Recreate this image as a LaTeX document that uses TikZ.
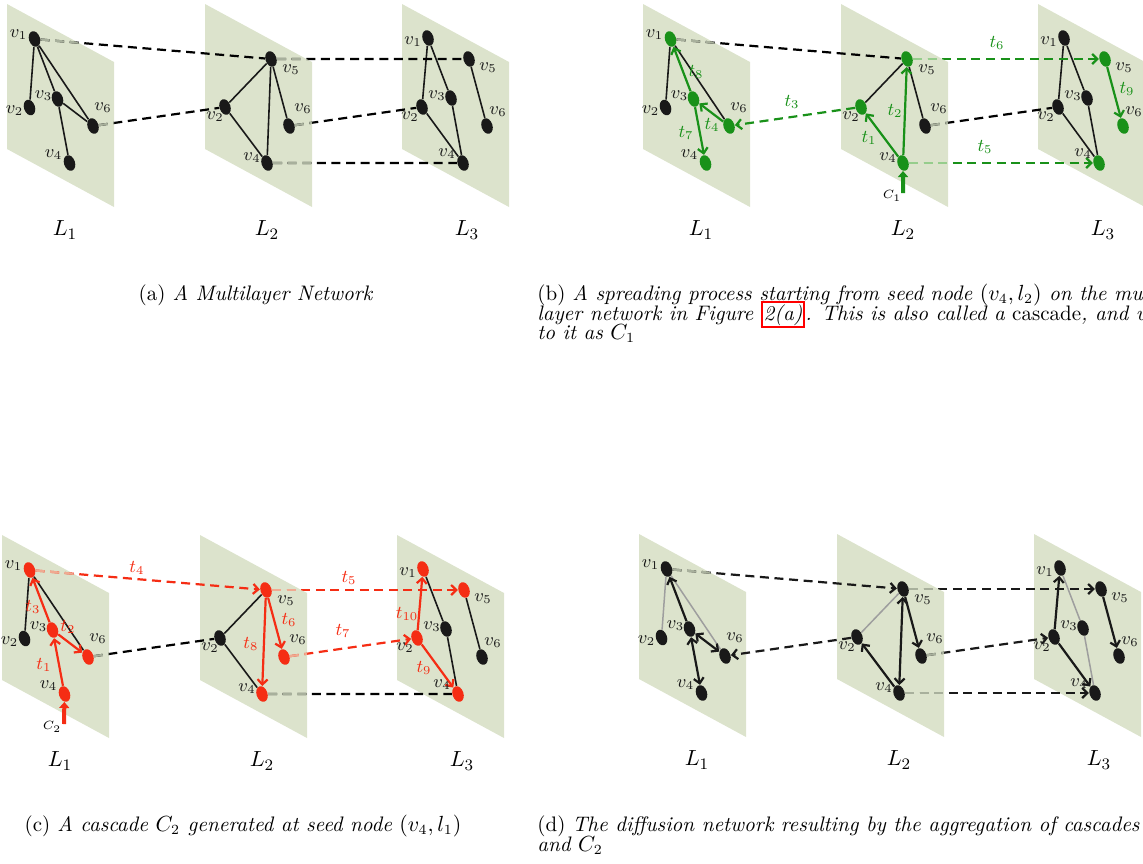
\documentclass[tikz,border=0pt]{standalone}
\usepackage{tikz}
\usetikzlibrary{arrows.meta,calc,positioning,shapes.geometric}
\pgfdeclarelayer{bg}
\pgfdeclarelayer{mid}
\pgfsetlayers{bg,mid,main}

\definecolor{planecol}{RGB}{220,227,204}
\definecolor{ink}{RGB}{25,25,25}
\definecolor{grn}{RGB}{25,145,25}
\definecolor{rd}{RGB}{245,45,20}
\definecolor{kfade}{RGB}{168,176,156}
\definecolor{gfade}{RGB}{150,205,140}
\definecolor{rfade}{RGB}{240,170,145}

\setlength{\fboxsep}{0.5pt}
\setlength{\fboxrule}{1pt}

\newcommand\tfont{\fontsize{9}{10}\selectfont}

% the three layer planes of one panel
\newcommand\planes{%
  \foreach \x in {7,205,402}
    \fill[plane] (\x,4) -- ++(107,58) -- ++(0,145) -- ++(-107,-58) -- cycle;}

% light part of an inter-layer link, where it runs behind its own plane
\newcommand\fade[4]{%
  \begin{scope}
    \clip (#1,4) -- ++(107,58) -- ++(0,145) -- ++(-107,-58) -- cycle;
    \draw[inter, #2] (#3) -- (#4);
  \end{scope}}

% nodes v1..v6 of the three layers; \hot<panel><layer><node> gives the fill
\newcommand\netnodes[1]{%
  \foreach \n/\xy/\dxy/\i in {11/{34.5,39}/{-16,-4}/1, 12/{29.5,107.5}/{-15,3}/2,
      13/{57.5,99}/{-14,-3}/3, 14/{69.5,163}/{-16,-8}/4, 16/{93,126}/{10,-18}/6,
      22/{225,107}/{-10,10}/2, 24/{267,163}/{-15,-5}/4, 25/{271,59}/{20,11}/5,
      26/{289,126}/{14,-17}/6,
      31/{428,38}/{-15,4}/1, 32/{422,107}/{-12,10}/2, 33/{451,98}/{-14,-2}/3,
      34/{463,163}/{-16,-9}/4, 35/{469,59}/{19,9}/5, 36/{487,126}/{11,-14}/6}{%
    \ifcsname hot#1\n\endcsname \edef\vcol{\csname hot#1\n\endcsname}\else\def\vcol{ink}\fi
    \node[vx, fill=\vcol] (#1\n) at (\xy) {};
    \node[vlbl] (#1\n-lab) at ($(\xy)+(\dxy)$) {$v_{\i}$};}}

\newcommand\laylabels[1]{%
  \foreach \i/\x in {1/65,2/267,3/467}
    \node[lay] (#1L\i) at (\x,230) {$L_{\i}$};}

\foreach \n in {11,13,14,16,22,24,25,34,35,36}
  {\expandafter\xdef\csname hotb\n\endcsname{grn}}
\foreach \n in {11,13,14,16,24,25,26,31,32,34,35}
  {\expandafter\xdef\csname hotc\n\endcsname{rd}}

\begin{document}
\begin{tikzpicture}[x=0.5pt, y=-0.5pt,
    > = {Straight Barb[length=2.6pt,width=5pt]},
     plane/.style = {fill=planecol},
        vx/.style = {ellipse, inner sep=0pt, minimum width=5.5pt, minimum height=8pt, rotate=18},
      vlbl/.style = {font=\tfont, text=ink, inner sep=0pt},
        tl/.style = {font=\tfont, inner sep=0pt},
       lay/.style = {font=\fontsize{11}{13}\selectfont, inner sep=0pt},
      clbl/.style = {font=\fontsize{6}{7}\selectfont, inner sep=0pt},
        ln/.style = {draw=ink, line width=0.8pt},
       gln/.style = {draw=black!38, line width=0.75pt},
       hot/.style = {->, line width=1.1pt},
     inter/.style = {line width=1.1pt, dash pattern=on 4.5pt off 2.8pt},
      seed/.style = {-{Triangle[length=3pt,width=5pt]}, line width=2pt},
    captxt/.style = {font=\fontsize{10.5}{12}\selectfont, inner sep=0pt, anchor=base west}
]
\useasboundingbox (0,0) rectangle (1143,863);

%% (a) the multilayer network
\begin{scope}
\begin{pgfonlayer}{bg}\planes\end{pgfonlayer}
\netnodes{a}
\laylabels{a}
\begin{pgfonlayer}{mid}
\draw[ln] (a11) -- (a12) (a11) -- (a13) (a11) -- (a16) (a13) -- (a16) (a13) -- (a14)
          (a25) -- (a22) (a25) -- (a24) (a25) -- (a26) (a22) -- (a24)
          (a31) -- (a32) (a31) -- (a33) (a33) -- (a34) (a32) -- (a34) (a35) -- (a36);
\draw[inter] (a11) -- (a25) (a16) -- (a22) (a25) -- (a35) (a26) -- (a32) (a24) -- (a34);
\fade{7}{kfade}{a11}{a25}   \fade{7}{kfade}{a16}{a22}
\fade{205}{kfade}{a25}{a35} \fade{205}{kfade}{a26}{a32} \fade{205}{kfade}{a24}{a34}
\end{pgfonlayer}
\end{scope}

%% (b) cascade C1
\begin{scope}[shift={(636,0)}]
\begin{pgfonlayer}{bg}\planes\end{pgfonlayer}
\netnodes{b}
\laylabels{b}
\coordinate (bs) at (267,193);
\node[clbl] (bcl) at (256,196) {$C_1$};
\foreach \t/\xy in {8/{60,72}, 4/{76,125}, 7/{50,133}, 1/{233,138}, 2/{259,111},
                    9/{491,89}, 3/{156,102}, 6/{361,43}, 5/{349,147}}
  \node[tl, grn] (bt\t) at (\xy) {$t_{\t}$};
\begin{pgfonlayer}{mid}
\draw[ln] (b11) -- (b12) (b11) -- (b16) (b25) -- (b22) (b25) -- (b26)
          (b31) -- (b32) (b31) -- (b33) (b33) -- (b34) (b32) -- (b34);
\path (b13) edge[hot, grn] (b11)
      (b16) edge[hot, grn] (b13)
      (b13) edge[hot, grn] (b14)
      (b24) edge[hot, grn] (b22)
      (b24) edge[hot, grn] (b25)
      (b35) edge[hot, grn] (b36);
\draw[inter] (b11) -- (b25) (b26) -- (b32);
\fade{7}{kfade}{b11}{b25} \fade{205}{kfade}{b26}{b32}
\path (b22) edge[inter, ->, grn] (b16)
      (b25) edge[inter, ->, grn] (b35)
      (b24) edge[inter, ->, grn] (b34);
\fade{205}{gfade}{b25}{b35} \fade{205}{gfade}{b24}{b34}
\draw[seed, grn] (bs) -- (b24);
\end{pgfonlayer}
\end{scope}

%% (c) cascade C2
\begin{scope}[shift={(-5,531)}]
\begin{pgfonlayer}{bg}\planes\end{pgfonlayer}
\netnodes{c}
\laylabels{c}
\coordinate (cs) at (69,193);
\node[clbl] (ccl) at (57,196) {$C_2$};
\foreach \t/\xy in {4/{142,37}, 3/{38,76}, 2/{73,96}, 1/{49,134}, 5/{354,47},
                    6/{294,89}, 8/{256,113}, 7/{348,100}, 10/{412,83}, 9/{429,137}}
  \node[tl, rd] (ct\t) at (\xy) {$t_{\t}$};
\begin{pgfonlayer}{mid}
\draw[ln] (c11) -- (c12) (c11) -- (c16) (c25) -- (c22) (c22) -- (c24)
          (c31) -- (c33) (c33) -- (c34) (c35) -- (c36);
\path (c14) edge[hot, rd] (c13)
      (c13) edge[hot, rd] (c16)
      (c13) edge[hot, rd] (c11)
      (c25) edge[hot, rd] (c26)
      (c25) edge[hot, rd] (c24)
      (c32) edge[hot, rd] (c31)
      (c32) edge[hot, rd] (c34);
\draw[inter] (c16) -- (c22) (c24) -- (c34);
\fade{7}{kfade}{c16}{c22} \fade{205}{kfade}{c24}{c34}
\path (c11) edge[inter, ->, rd] (c25)
      (c25) edge[inter, ->, rd] (c35)
      (c26) edge[inter, ->, rd] (c32);
\fade{7}{rfade}{c11}{c25} \fade{205}{rfade}{c25}{c35} \fade{205}{rfade}{c26}{c32}
\draw[seed, rd] (cs) -- (c14);
\end{pgfonlayer}
\end{scope}

%% (d) diffusion network
\begin{scope}[shift={(632,530)}]
\begin{pgfonlayer}{bg}\planes\end{pgfonlayer}
\netnodes{d}
\laylabels{d}
\begin{pgfonlayer}{mid}
\draw[gln] (d11) -- (d12) (d11) -- (d16) (d25) -- (d22) (d31) -- (d33) (d33) -- (d34);
\path (d13) edge[hot, ink] (d11)
      (d13) edge[hot, ink, <->] (d16)
      (d13) edge[hot, ink, <->] (d14)
      (d24) edge[hot, ink] (d22)
      (d24) edge[hot, ink, <->] (d25)
      (d25) edge[hot, ink] (d26)
      (d32) edge[hot, ink] (d31)
      (d32) edge[hot, ink] (d34)
      (d35) edge[hot, ink] (d36);
\path (d11) edge[inter, ->, ink] (d25)
      (d22) edge[inter, ->, ink] (d16)
      (d25) edge[inter, ->, ink] (d35)
      (d26) edge[inter, ->, ink] (d32)
      (d24) edge[inter, ->, ink] (d34);
\fade{7}{kfade}{d11}{d25} \fade{205}{kfade}{d25}{d35}
\fade{205}{kfade}{d26}{d32} \fade{205}{kfade}{d24}{d34}
\end{pgfonlayer}
\end{scope}

%% captions, one node per printed line
\node[captxt, anchor=base] (capa) at (256,300) {(a) \textit{A Multilayer Network}};
\node[captxt] (capb1) at (537,300)
  {(b) \textit{A spreading process starting from seed node $(v_4,l_2)$ on the multi-}};
\node[captxt] (capb2) at (537,320)
  {\textit{layer network in Figure \fcolorbox{red}{white}{2(a)}. This is also called a} cascade\textit{, and we refer}};
\node[captxt] (capb3) at (537,339) {\textit{to it as $C_1$}};
\node[captxt, anchor=base] (capc) at (243,831) {(c) \textit{A cascade $C_2$ generated at seed node $(v_4,l_1)$}};
\node[captxt] (capd1) at (537,831)
  {(d) \textit{The diffusion network resulting by the aggregation of cascades $C_1$}};
\node[captxt] (capd2) at (537,851) {\textit{and $C_2$}};
\end{tikzpicture}
\end{document}
